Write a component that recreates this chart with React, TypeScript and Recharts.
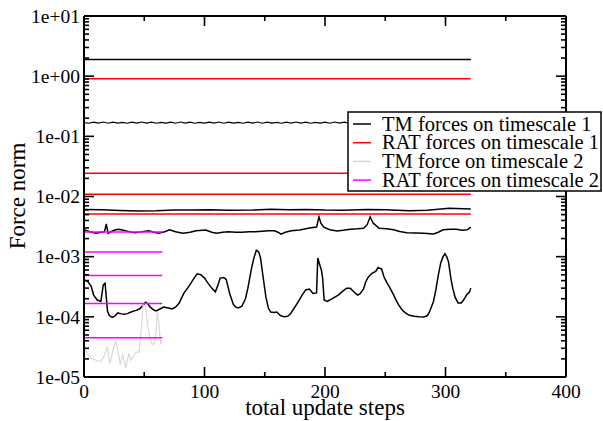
import React from 'react';
import { LineChart, Line, XAxis, YAxis, Legend, ReferenceLine } from 'recharts';

// ---- axis ticks / labels ----
const xTicks = [0, 100, 200, 300, 400];
const xTickLabels = ['0', '100', '200', '300', '400'];
const xMinorTicks = [50, 150, 250, 350];
const yTicks = [1e-5, 1e-4, 1e-3, 1e-2, 1e-1, 1, 10];
const yTickLabels = ['1e-05', '1e-04', '1e-03', '1e-02', '1e-01', '1e+00', '1e+01'];
const yDecades = [1e-5, 1e-4, 1e-3, 1e-2, 1e-1, 1];
const yMinorMultipliers = [2, 3, 4, 5, 6, 7, 8, 9];
const yMinorTicks = yDecades.flatMap((d) => yMinorMultipliers.map((m) => m * d));
const xDomain: [number, number] = [0, 400];
const yDomain: [number, number] = [1e-5, 10];

const xTitle = 'total update steps';
const yTitle = 'Force norm';

// ---- series ----
const legendNames = [
  'TM forces on timescale 1',
  'RAT forces on timescale 1',
  'TM force on timescale 2',
  'RAT forces on timescale 2',
];
const legendColors = ['#000000', '#ff0000', '#d8d8d8', '#ff00ff'];

// TM forces on timescale 1 (black)
const tmTs1Levels = [1.9];
const tmTs1End = 321;
const tmWavyStep = 4;
const tmWavyY = [
  0.169, 0.165, 0.172, 0.166, 0.173, 0.165, 0.172, 0.166, 0.171, 0.165,
  0.172, 0.166, 0.173, 0.166, 0.172, 0.165, 0.171, 0.166, 0.172, 0.165,
  0.173, 0.166, 0.172, 0.165, 0.171, 0.166, 0.172, 0.166, 0.173, 0.165,
  0.172, 0.166, 0.171, 0.165, 0.172, 0.166, 0.173, 0.165, 0.172, 0.166,
  0.171, 0.165, 0.172, 0.166, 0.173, 0.166, 0.172, 0.165, 0.171, 0.166,
  0.172, 0.165, 0.173, 0.166, 0.172, 0.165, 0.171, 0.166, 0.172, 0.166,
  0.173, 0.165, 0.172, 0.166, 0.171, 0.165, 0.172, 0.166, 0.173, 0.165,
  0.172, 0.166, 0.171, 0.165, 0.172, 0.166, 0.173, 0.166, 0.172, 0.165,
  0.169,
];
const tmMid = [
  [0, 6.1e-3], [15, 6.0e-3], [30, 5.85e-3], [45, 5.75e-3], [60, 5.8e-3], [75, 5.95e-3],
  [90, 5.95e-3], [105, 6.0e-3], [120, 5.9e-3], [140, 5.95e-3], [155, 6.15e-3], [170, 6.05e-3],
  [185, 6.1e-3], [200, 5.95e-3], [215, 5.9e-3], [235, 6.1e-3], [250, 6.0e-3], [270, 5.8e-3],
  [285, 5.9e-3], [303, 6.35e-3], [321, 6.2e-3],
];
const tmLow = [
  [0, 2.8e-3], [5, 2.6e-3], [10, 2.45e-3], [14, 2.55e-3], [17, 2.6e-3], [18.5, 3.5e-3],
  [20, 2.45e-3], [24, 2.7e-3], [28, 2.85e-3], [31, 2.8e-3], [36, 2.65e-3], [42, 2.5e-3],
  [48, 2.6e-3], [54, 2.7e-3], [58, 2.55e-3], [62, 2.45e-3], [67, 2.6e-3], [71, 2.8e-3],
  [76, 2.6e-3], [82, 2.45e-3], [88, 2.55e-3], [93, 2.7e-3], [101, 2.78e-3], [106, 2.55e-3],
  [110, 2.45e-3], [115, 2.55e-3], [120, 2.6e-3], [126, 2.55e-3], [131, 2.55e-3], [137, 2.6e-3],
  [142, 2.6e-3], [148, 2.65e-3], [153, 2.7e-3], [158, 2.7e-3], [161, 2.55e-3], [163.5, 2.36e-3],
  [167, 2.55e-3], [172, 2.7e-3], [179, 2.78e-3], [187, 3.0e-3], [193, 3.1e-3], [195, 4.6e-3],
  [196.6, 3.6e-3], [199, 3.1e-3], [204, 2.8e-3], [210, 2.68e-3], [215, 2.75e-3], [221, 2.86e-3],
  [227, 2.9e-3], [232, 2.97e-3], [235, 3.4e-3], [237.5, 4.6e-3], [240, 3.6e-3], [245, 2.97e-3],
  [251, 2.9e-3], [257, 2.8e-3], [262, 2.62e-3], [268, 2.5e-3], [275, 2.48e-3], [282, 2.45e-3],
  [290, 2.39e-3], [294, 2.55e-3], [298, 2.79e-3], [304, 2.86e-3], [309, 2.86e-3], [314, 2.75e-3],
  [318, 2.79e-3], [321, 3.1e-3],
];
const tmVar = [
  [0, 4.1e-4], [3, 3.9e-4], [6, 3.2e-4], [8, 2.3e-4], [11, 1.9e-4], [14, 1.8e-4],
  [16, 3.4e-4], [17.5, 3.6e-4], [19.5, 1.25e-4], [21, 1.05e-4], [23.5, 9.8e-5], [26, 1.05e-4],
  [28, 1.16e-4], [31, 1.12e-4], [33, 1.1e-4], [36, 1.13e-4], [39, 1.2e-4], [43, 1.28e-4],
  [46, 1.35e-4], [49, 1.55e-4], [51, 1.75e-4], [53, 1.65e-4], [55, 1.45e-4], [58, 1.3e-4],
  [60, 1.25e-4], [63, 1.35e-4], [66, 1.45e-4], [70, 1.4e-4], [73, 1.35e-4], [76, 1.45e-4],
  [79, 1.7e-4], [83, 2.5e-4], [86, 3.0e-4], [89, 3.7e-4], [92, 4.6e-4], [94, 5.2e-4],
  [97, 5.0e-4], [100, 4.4e-4], [103, 3.6e-4], [106, 3.0e-4], [109, 2.6e-4], [111, 3.3e-4],
  [113, 4.4e-4], [116, 4.5e-4], [118, 4.2e-4], [121, 2.4e-4], [124, 1.6e-4], [126, 1.45e-4],
  [128, 1.4e-4], [131, 1.5e-4], [134, 2.0e-4], [136, 3.0e-4], [139, 6.4e-4], [141, 9.5e-4],
  [143, 1.28e-3], [145, 1.2e-3], [146.5, 9.5e-4], [148.5, 4.8e-4], [151, 2.1e-4], [153, 1.4e-4],
  [155, 1.2e-4], [158, 1.18e-4], [160, 1.2e-4], [163, 1.05e-4], [166, 1.0e-4], [169, 1.02e-4],
  [171, 1.1e-4], [174, 1.35e-4], [178, 1.8e-4], [181, 2.3e-4], [184, 2.8e-4], [187, 2.9e-4],
  [190, 2.45e-4], [193, 2.5e-4], [194, 9.5e-4], [195.5, 7.5e-4], [197, 6.0e-4], [198, 4.5e-4],
  [199.3, 1.9e-4], [202, 1.8e-4], [206, 2.0e-4], [211, 2.3e-4], [215, 2.7e-4], [218, 3.0e-4],
  [221, 3.0e-4], [224, 2.6e-4], [227, 2.3e-4], [229, 2.4e-4], [232, 2.9e-4], [234, 3.9e-4],
  [236, 4.6e-4], [239, 5.3e-4], [242, 5.7e-4], [244, 6.6e-4], [247, 6.2e-4], [249, 4.6e-4],
  [251, 3.8e-4], [254, 3.0e-4], [257, 2.3e-4], [259, 1.9e-4], [261, 1.6e-4], [264, 1.3e-4],
  [267, 1.15e-4], [270, 1.06e-4], [274, 1.02e-4], [278, 1.0e-4], [282, 9.9e-5], [285, 1.05e-4],
  [287, 1.25e-4], [290, 1.8e-4], [292, 2.8e-4], [294, 4.9e-4], [296, 7.8e-4], [298, 1.0e-3],
  [299.5, 1.12e-3], [301, 1.0e-3], [302.5, 8.2e-4], [304.5, 4.3e-4], [306, 3.0e-4], [308, 2.1e-4],
  [310.5, 1.7e-4], [313, 1.7e-4], [315, 1.9e-4], [317.5, 2.3e-4], [320, 2.6e-4], [321, 3.0e-4],
];

// RAT forces on timescale 1 (red) – constant levels
const ratTs1Levels = [0.91, 0.0244, 0.0109, 0.00514];
const ratTs1End = 321;

// TM force on timescale 2 (light grey)
const tmTs2 = [
  [1, 2.9e-5], [4, 2.2e-5], [7, 2.0e-5], [10, 1.9e-5], [14, 1.8e-5], [16.5, 2.2e-5],
  [19.5, 3.2e-5], [21.5, 1.65e-5], [24, 2.8e-5], [26.3, 3.9e-5], [28.5, 2.6e-5], [30, 1.6e-5],
  [32, 2.3e-5], [33.5, 1.8e-5], [34.6, 1.4e-5], [36, 1.9e-5], [37.3, 2.5e-5], [38.7, 1.9e-5],
  [41, 2.2e-5], [43, 2.6e-5], [45.6, 2.6e-5], [47.6, 6.2e-5], [49, 1.6e-4], [51, 1.5e-4],
  [53, 7e-5], [55, 4.2e-5], [56.7, 3.5e-5], [58.6, 3.6e-5], [60, 6.2e-5], [60.8, 1.24e-4],
  [62.2, 7.8e-5], [63.6, 3.5e-5], [65, 4.2e-5],
];

// RAT forces on timescale 2 (magenta) – constant levels
const ratTs2Levels = [0.00258, 0.0012, 0.000485, 0.000166, 4.48e-5];
const ratTs2End = 65;

// ---- helpers ----
const toPts = (arr: number[][]) => arr.map(([x, y]) => ({ x, y }));
const flat = (v: number, end: number) => [{ x: 0, y: v }, { x: end, y: v }];

const FONT = '"Liberation Serif", "Times New Roman", Times, serif';
const TICK_FS = 19.5;
const MAJOR = 10;
const MINOR = 5;

// layout of the plot box (pixels)
const CHART_W = 603;
const CHART_H = 421;
const M_LEFT = 84;
const M_RIGHT = 37;
const M_TOP = 16;
const M_BOTTOM = 44;
const PLOT_W = CHART_W - M_LEFT - M_RIGHT;
const PLOT_H = CHART_H - M_TOP - M_BOTTOM;

// tick-mark lengths converted from pixels into data units of each axis
const xUnitsPerPx = (xDomain[1] - xDomain[0]) / PLOT_W;
const decadesPerPx = (Math.log10(yDomain[1]) - Math.log10(yDomain[0])) / PLOT_H;

type Seg = [{ x: number; y: number }, { x: number; y: number }];
const tickSegments = (): Seg[] => {
  const segs: Seg[] = [];
  const xAll = [...xTicks.map((v) => [v, MAJOR]), ...xMinorTicks.map((v) => [v, MINOR])];
  const yAll = [...yTicks.map((v) => [v, MAJOR]), ...yMinorTicks.map((v) => [v, MINOR])];
  xAll.forEach(([u, len]) => {
    const f = Math.pow(10, len * decadesPerPx);
    segs.push([{ x: u, y: yDomain[0] }, { x: u, y: yDomain[0] * f }]);
    segs.push([{ x: u, y: yDomain[1] }, { x: u, y: yDomain[1] / f }]);
  });
  yAll.forEach(([v, len]) => {
    const d = len * xUnitsPerPx;
    segs.push([{ x: xDomain[0], y: v }, { x: xDomain[0] + d, y: v }]);
    segs.push([{ x: xDomain[1] - d, y: v }, { x: xDomain[1], y: v }]);
  });
  return segs;
};

const XTick = (p: any) => {
  const v = p.payload?.value;
  const i = xTicks.indexOf(v);
  return (
    <text x={p.x} y={p.y + 7} dy="0.71em" textAnchor="middle" fontFamily={FONT} fontSize={TICK_FS} fill="#000">
      {i >= 0 ? xTickLabels[i] : ''}
    </text>
  );
};
const YTick = (p: any) => {
  const v = p.payload?.value;
  const i = yTicks.findIndex((t) => Math.abs(t - v) / t < 1e-6);
  return (
    <text x={p.x - 4} y={p.y} dy="0.35em" textAnchor="end" fontFamily={FONT} fontSize={TICK_FS} fill="#000">
      {i >= 0 ? yTickLabels[i] : ''}
    </text>
  );
};

const LegendBox = () => (
  <svg width={256} height={82} style={{ display: 'block' }}>
    <rect x={1} y={1} width={253} height={79} fill="#fff" stroke="#000" strokeWidth={1.5} />
    {legendNames.map((n, i) => (
      <g key={n}>
        <line x1={6} x2={24} y1={13 + i * 18.7} y2={13 + i * 18.7} stroke={legendColors[i]} strokeWidth={1.5} />
        <text x={35} y={13 + i * 18.7 + 6.5} fontSize={20.5} fontFamily={FONT} fill="#000">
          {n}
        </text>
      </g>
    ))}
  </svg>
);

export default function App() {
  const wavy = tmWavyY.map((y, i) => ({ x: i * tmWavyStep, y }));
  const segs = tickSegments();
  const lineCommon = {
    xAxisId: 'x',
    yAxisId: 'y',
    dataKey: 'y',
    dot: false,
    activeDot: false,
    isAnimationActive: false,
    legendType: 'none' as const,
    strokeWidth: 1.5,
  };
  return (
    <div style={{ position: 'absolute', left: 0, top: 0, width: CHART_W, height: CHART_H, background: '#fff' }}>
      <LineChart
        width={CHART_W}
        height={CHART_H}
        margin={{ top: M_TOP, right: M_RIGHT, bottom: 0, left: 0 }}
        style={{ fontFamily: FONT }}
      >
        <XAxis
          xAxisId="x"
          type="number"
          dataKey="x"
          domain={xDomain}
          allowDataOverflow
          ticks={xTicks}
          interval={0}
          height={M_BOTTOM}
          tickSize={0}
          tickMargin={0}
          tickLine={false}
          axisLine={{ stroke: '#000', strokeWidth: 2 }}
          tick={XTick}
        />
        <YAxis
          yAxisId="y"
          type="number"
          scale="log"
          domain={yDomain}
          allowDataOverflow
          ticks={yTicks}
          interval={0}
          width={M_LEFT}
          tickSize={0}
          tickMargin={0}
          tickLine={false}
          axisLine={{ stroke: '#000', strokeWidth: 2 }}
          tick={YTick}
        />

        {/* TM forces on timescale 1 */}
        {tmTs1Levels.map((v, i) => (
          <Line key={`tmflat${i}`} {...lineCommon} data={flat(v, tmTs1End)} stroke={legendColors[0]} />
        ))}
        <Line {...lineCommon} data={wavy} stroke={legendColors[0]} strokeWidth={1.2} />
        <Line {...lineCommon} data={toPts(tmMid)} stroke={legendColors[0]} />
        <Line {...lineCommon} data={toPts(tmLow)} stroke={legendColors[0]} />
        <Line {...lineCommon} data={toPts(tmVar)} stroke={legendColors[0]} />

        {/* RAT forces on timescale 1 */}
        {ratTs1Levels.map((v, i) => (
          <Line key={`rat1${i}`} {...lineCommon} data={flat(v, ratTs1End)} stroke={legendColors[1]} />
        ))}

        {/* TM force on timescale 2 */}
        <Line {...lineCommon} data={toPts(tmTs2)} stroke={legendColors[2]} strokeWidth={1.2} />

        {/* RAT forces on timescale 2 */}
        {ratTs2Levels.map((v, i) => (
          <Line key={`rat2${i}`} {...lineCommon} data={flat(v, ratTs2End)} stroke={legendColors[3]} />
        ))}

        {/* frame: top and right edges */}
        <ReferenceLine xAxisId="x" yAxisId="y" y={yDomain[1]} stroke="#000" strokeWidth={2} />
        <ReferenceLine xAxisId="x" yAxisId="y" x={xDomain[1]} stroke="#000" strokeWidth={2} />

        {/* inward tick marks on all four sides */}
        {segs.map((s, i) => (
          <ReferenceLine
            key={`tk${i}`}
            xAxisId="x"
            yAxisId="y"
            segment={s}
            stroke="#000"
            strokeWidth={1.6}
            ifOverflow="visible"
          />
        ))}

        <Legend
          layout="vertical"
          align="center"
          verticalAlign="middle"
          content={() => <LegendBox />}
          wrapperStyle={{ left: 347, top: 111, width: 256, height: 82 }}
        />

        <text x={325} y={415} textAnchor="middle" fontSize={23} fontFamily={FONT} fill="#000">
          {xTitle}
        </text>
        <text
          x={25}
          y={196}
          textAnchor="middle"
          fontSize={23}
          fontFamily={FONT}
          fill="#000"
          transform="rotate(-90 25 196)"
        >
          {yTitle}
        </text>
      </LineChart>
    </div>
  );
}
